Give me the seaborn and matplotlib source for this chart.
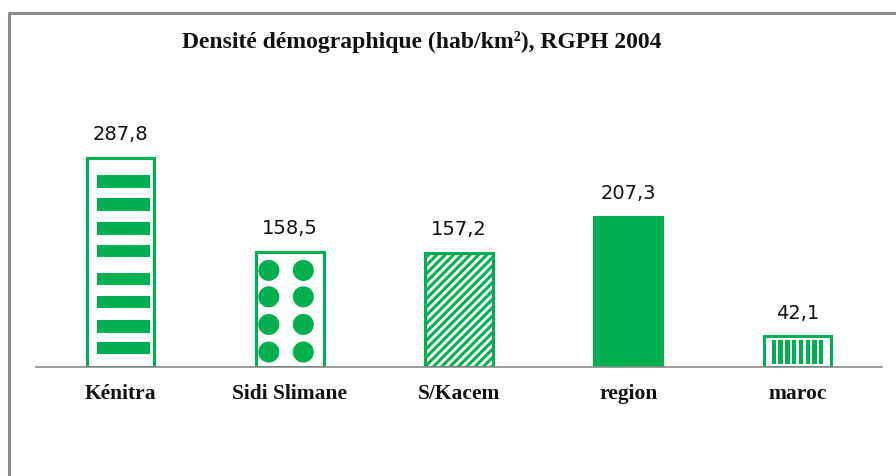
import numpy as np
import pandas as pd
import matplotlib
matplotlib.use("Agg")
import matplotlib.pyplot as plt
from matplotlib.patches import Rectangle
from matplotlib.lines import Line2D
import seaborn as sns

# data
categories = ["Kénitra", "Sidi Slimane", "S/Kacem", "region", "maroc"]
densite = [287.8, 158.5, 157.2, 207.3, 42.1]
labels = ["287,8", "158,5", "157,2", "207,3", "42,1"]

green = "#00B050"
grey = "#8a8a8a"

sns.set_style("white")
plt.rcParams["hatch.color"] = green
plt.rcParams["hatch.linewidth"] = 2.2

df = pd.DataFrame({"zone": categories, "densite": densite})

fig = plt.figure(figsize=(8.96, 4.76), dpi=100)
ax = fig.add_axes([36 / 896, 109 / 476, 846 / 896, 254 / 476])

sns.barplot(data=df, x="zone", y="densite", ax=ax, width=0.40,
            color="white", edgecolor=green, linewidth=2.2, saturation=1)

ax.set_ylim(0, 350)
ax.set_xlim(-0.5, 4.5)

bars = ax.patches
for b in bars:
    b.set_facecolor("white")
    b.set_edgecolor(green)

# Kénitra : tirets horizontaux
b = bars[0]
x0, w, h = b.get_x(), b.get_width(), b.get_height()
for f in [0.089, 0.194, 0.313, 0.423, 0.555, 0.663, 0.778, 0.888]:
    ax.add_patch(Rectangle((x0 + w * 0.15, h * f - h * 0.029), w * 0.78, h * 0.058,
                           facecolor=green, edgecolor="none", zorder=3))

# Sidi Slimane : points
b = bars[1]
x0, w, h = b.get_x(), b.get_width(), b.get_height()
xs, ys = [], []
for fx in [0.19, 0.70]:
    for fy in [0.13, 0.37, 0.61, 0.84]:
        xs.append(x0 + w * fx)
        ys.append(h * fy)
ax.scatter(xs, ys, s=230, color=green, edgecolor="none", zorder=3)

# S/Kacem : hachures
bars[2].set_hatch("////")

# region : plein
bars[3].set_facecolor(green)

# maroc : barres verticales
b = bars[4]
x0, w, h = b.get_x(), b.get_width(), b.get_height()
for fx in np.linspace(0.12, 0.82, 8):
    ax.add_patch(Rectangle((x0 + w * fx, h * 0.1), w * 0.065, h * 0.8,
                           facecolor=green, edgecolor="none", zorder=3))

ax.bar_label(ax.containers[0], labels=labels, padding=10,
             fontsize=14, family="DejaVu Sans", color="#111111")

ax.set_xlabel("")
ax.set_ylabel("")
ax.set_yticks([])
ax.tick_params(axis="x", length=0, pad=12)
for t in ax.get_xticklabels():
    t.set_fontfamily("Liberation Serif")
    t.set_fontweight("bold")
    t.set_fontsize(15.5)
    t.set_color("#111111")

for s in ["top", "left", "right"]:
    ax.spines[s].set_visible(False)
ax.spines["bottom"].set_color(grey)
ax.spines["bottom"].set_linewidth(1.2)

fig.text(422 / 896, 1 - 42 / 476, "Densité démographique (hab/km²), RGPH 2004",
         ha="center", va="center", family="Liberation Serif",
         fontweight="bold", fontsize=17, color="#111111")

# cadre gris
fig.add_artist(Line2D([8.5 / 896, 8.5 / 896], [0, 1 - 13 / 476],
                      transform=fig.transFigure, color=grey, lw=2.2))
fig.add_artist(Line2D([8.5 / 896, 1], [1 - 13 / 476, 1 - 13 / 476],
                      transform=fig.transFigure, color=grey, lw=2.2))

fig.savefig("out.png", dpi=100, facecolor="white")
